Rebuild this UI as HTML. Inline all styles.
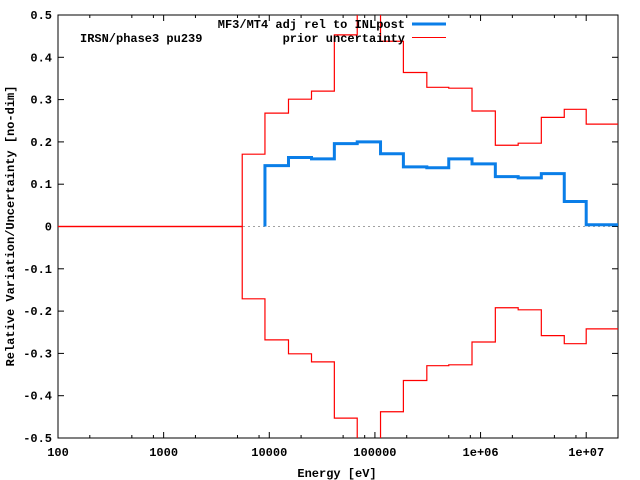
<!DOCTYPE html>
<html><head><meta charset="utf-8"><style>
html,body{margin:0;padding:0;background:#fff}
svg{display:block}
text{font-family:"Liberation Mono","DejaVu Sans Mono",monospace;font-weight:bold;font-size:12px;fill:#000}
</style></head><body>
<svg id="chart" width="640" height="480" viewBox="0 0 640 480">
<g id="axes"></g>
<g id="series"></g>
<text x="80" y="42">IRSN/phase3 pu239</text>
<text x="337" y="477" text-anchor="middle">Energy [eV]</text>
<text transform="translate(14,226) rotate(-90)" text-anchor="middle">Relative Variation/Uncertainty [no-dim]</text>
<g>
<text x="405" y="28" text-anchor="end">MF3/MT4 adj rel to INLpost</text>
<line x1="412" y1="24" x2="446" y2="24" stroke="#0a7ee8" stroke-width="3"/>
<text x="405" y="42" text-anchor="end">prior uncertainty</text>
<line x1="412" y1="37.5" x2="446" y2="37.5" stroke="#ff0000" stroke-width="1"/>
</g>
</svg>
<script>
const edges = [100, 5545, 9100, 15200, 25100, 41300, 68000, 113000, 186000, 310000, 500000, 830000, 1380000, 2270000, 3760000, 6200000, 10000000, 20000000];
const priorValues = [0, 0.171, 0.268, 0.301, 0.320, 0.453, 0.62, 0.438, 0.364, 0.329, 0.327, 0.273, 0.192, 0.197, 0.258, 0.277, 0.242];
const adjValues = [null, null, 0.144, 0.163, 0.160, 0.196, 0.200, 0.172, 0.141, 0.139, 0.160, 0.148, 0.118, 0.115, 0.125, 0.059, 0.004];
const yTicks = [0.5, 0.4, 0.3, 0.2, 0.1, 0, -0.1, -0.2, -0.3, -0.4, -0.5];
const yTickLabels = ["0.5","0.4","0.3","0.2","0.1","0","-0.1","-0.2","-0.3","-0.4","-0.5"];
const xTicks = [100, 1000, 10000, 100000, 1000000, 10000000];
const xTickLabels = ["100","1000","10000","100000","1e+06","1e+07"];

const L=58, R=618, T=15, B=438;
const xmin=Math.log10(100), xmax=Math.log10(20000000);
function xs(v){return L+(Math.log10(v)-xmin)/(xmax-xmin)*(R-L);}
function ys(v){return T+(0.5-v)/1.0*(B-T);}
const NS="http://www.w3.org/2000/svg";
function mk(tag,attrs,parent){const e=document.createElementNS(NS,tag);for(const k in attrs)e.setAttribute(k,attrs[k]);parent.appendChild(e);return e;}
const axes=document.getElementById('axes'), series=document.getElementById('series');

// zero line
const z=mk('line',{x1:L,x2:R,y1:ys(0),y2:ys(0),stroke:'#a0a0a0','stroke-dasharray':'2,3','stroke-width':1},axes);



yTicks.forEach((v,i)=>{
  const y=ys(v);
  const t1=mk('line',{x1:L,x2:L+6,y1:y,y2:y,stroke:'#000'},axes);
  
  
  const t2=mk('line',{x1:R-6,x2:R,y1:y,y2:y,stroke:'#000'},axes);
  
  
  const tx=mk('text',{x:L-6,y:y+4,'text-anchor':'end'},axes);
  tx.textContent=yTickLabels[i];
  
  
});
xTicks.forEach((v,i)=>{
  const x=xs(v);
  const t1=mk('line',{x1:x,x2:x,y1:B,y2:B-6,stroke:'#000'},axes);
  
  
  const t2=mk('line',{x1:x,x2:x,y1:T,y2:T+6,stroke:'#000'},axes);
  
  
  const tx=mk('text',{x:x,y:B+18,'text-anchor':'middle'},axes);
  tx.textContent=xTickLabels[i];
  
  
  [2,5,8].forEach(m=>{
    const mv=v*m; if(mv>20000000) return;
    const mx=xs(mv);
    const a=mk('line',{x1:mx,x2:mx,y1:B,y2:B-3,stroke:'#000'},axes);
    
    
    const b=mk('line',{x1:mx,x2:mx,y1:T,y2:T+3,stroke:'#000'},axes);
    
    
  });
});

const clip=mk('clipPath',{id:'pc'},series);
mk('rect',{x:L,y:T,width:R-L,height:B-T},clip);

function stepPath(vals,sign){
  let d='',started=false;
  for(let i=0;i<vals.length;i++){
    const v=vals[i]; if(v===null) continue;
    const x0=xs(edges[i]), x1=xs(edges[i+1]), y=ys(sign*v);
    if(!started){d+='M'+x0+','+ys(0)+' L'+x0+','+y;started=true;}
    else d+=' L'+x0+','+y;
    d+=' L'+x1+','+y;
  }
  return d;
}
const pu=mk('path',{d:stepPath(priorValues,1),fill:'none',stroke:'#ff0000','stroke-width':1.2,'clip-path':'url(#pc)'},series);


const pl=mk('path',{d:stepPath(priorValues,-1),fill:'none',stroke:'#ff0000','stroke-width':1.2,'clip-path':'url(#pc)'},series);


const ad=mk('path',{d:stepPath(adjValues,1),fill:'none',stroke:'#0a7ee8','stroke-width':3,'clip-path':'url(#pc)'},series);



const fr=mk('rect',{x:L,y:T,width:R-L,height:B-T,fill:'none',stroke:'#000'},axes);


</script>
</body></html>
